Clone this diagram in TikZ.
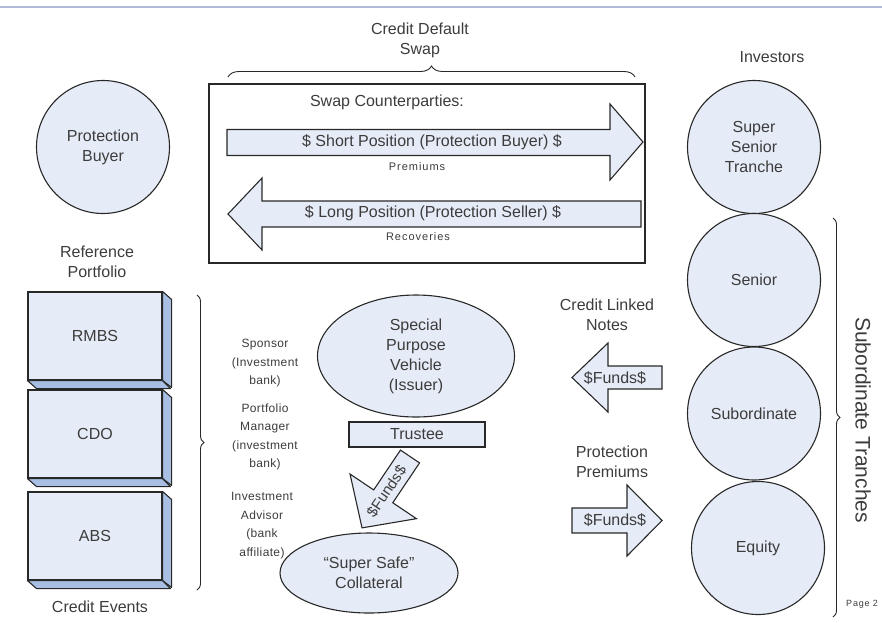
\documentclass[tikz,border=0pt]{standalone}
\usepackage{fontspec}
\setmainfont{Liberation Sans}
\newfontfamily\spacedfont[LetterSpace=9]{Liberation Sans}
\newfontfamily\notefont[LetterSpace=3]{Liberation Sans}
\usetikzlibrary{decorations.pathreplacing,shapes.geometric}
\definecolor{paleblue}{RGB}{230,236,247}
\definecolor{sideblue}{RGB}{168,190,226}
\definecolor{inkgray}{RGB}{60,60,60}
\definecolor{edge}{RGB}{40,40,40}
\definecolor{rulecol}{RGB}{178,188,216}
\begin{document}
\begin{tikzpicture}[x=1pt,y=-1pt,
  every node/.style={text=inkgray, font=\fontsize{16}{20}\selectfont, align=center, inner sep=0pt},
  shapefill/.style={draw=edge, fill=paleblue, line width=1.1pt},
  tranche/.style={shapefill, circle, minimum size=133pt},
  face/.style={draw=edge, fill=sideblue, line width=1.1pt, line join=round},
  frontface/.style={shapefill, minimum width=134pt, minimum height=88pt},
  note/.style={font=\notefont\fontsize{12}{18.5}\selectfont},
  tiny/.style={font=\spacedfont\fontsize{11}{13}\selectfont},
  bracket/.style={draw=edge, line width=0.9pt, decorate, decoration={brace, amplitude=#1}},
  bracket/.default=8,
  fatarrow/.style={shapefill, line join=miter},
]
\useasboundingbox (0,0) rectangle (882,622);

% header rule
\draw[rulecol, line width=1.5pt] (0,7) -- (882,7);

% credit default swap block
\node (cdstitle) at (420,40) {Credit Default\\Swap};
\draw[bracket=11] (228,77) -- (635,77);
\node[draw=edge, line width=1.2pt, minimum width=436pt, minimum height=179pt] (cds) at (427,173.5) {};
\node (counter) at (387,102) {Swap Counterparties:};

% premiums arrow (to the right)
\draw[fatarrow] (227,129.5) -- (610,129.5) -- (610,104) -- (643,142) -- (610,180)
  -- (610,155.5) -- (227,155.5) -- cycle;
\node (shortpos) at (432,142) {\$ Short Position (Protection Buyer) \$};
\node[tiny] (premiums) at (417,167) {Premiums};

% recoveries arrow (to the left)
\draw[fatarrow] (641,201) -- (262,201) -- (262,178) -- (228,214) -- (262,250)
  -- (262,227) -- (641,227) -- cycle;
\node (longpos) at (433,213) {\$ Long Position (Protection Seller) \$};
\node[tiny] (recoveries) at (418,237) {Recoveries};

% protection buyer
\node[tranche] (buyer) at (103,147) {Protection\\Buyer};

% investors and tranches
\node (investors) at (772,57) {Investors};
\node[tranche] (supersenior) at (754,147) {Super\\Senior\\Tranche};
\node[tranche] (senior) at (754,280) {Senior};
\node[tranche] (subordinate) at (754,413.5) {Subordinate};
\node[tranche] (equity) at (758,548) {Equity};
\draw[bracket=7] (833,218) -- (833,617);
\node[rotate=-90, font=\fontsize{21}{24}\selectfont] (subtranches) at (863,420) {Subordinate Tranches};
\node[font=\spacedfont\fontsize{9}{10}\selectfont, anchor=west] (page) at (846,604) {Page 2};

% reference portfolio
\node (refport) at (97,262) {Reference\\Portfolio};
\foreach \nm/\yy/\lbl in {rmbs/336/RMBS, cdo/434/CDO, abs/536/ABS}{
  \node[frontface] (\nm) at (95,\yy) {\lbl};
  \draw[face] (\nm.north east) -- ++(9,8) -- ++(0,88) -- (\nm.south east) -- cycle;
  \draw[face] (\nm.south west) -- ++(9,8) -- ++(134,0) -- (\nm.south east) -- cycle;
}
\node (events) at (100,607) {Credit Events};
\draw[bracket=7] (197,295) -- (197,590);

% parties around the vehicle
\node[note] (sponsor) at (265,363.5) {Sponsor\\(Investment\\bank)};
\node[note] (manager) at (265,437) {Portfolio\\Manager\\(investment\\bank)};
\node[note] (advisor) at (262,525.5) {Investment\\Advisor\\(bank\\affiliate)};

% special purpose vehicle
\node[shapefill, ellipse, minimum width=197pt, minimum height=122pt] (spv) at (416,356)
  {Special\\Purpose\\Vehicle\\(Issuer)};
\node[shapefill, minimum width=136pt, minimum height=25pt] (trustee) at (417,434.5) {Trustee};

% funds into collateral
\begin{scope}[shift={(410,456.5)}, rotate=-123.9]
  \draw[fatarrow] (0,-11.5) -- (48,-11.5) -- (48,-40) -- (86,0) -- (48,40) -- (48,11.5)
    -- (0,11.5) -- cycle;
  \node[rotate=56.1, font=\fontsize{15}{18}\selectfont] (fundsdown) at (42,0) {\$Funds\$};
\end{scope}
\node[shapefill, ellipse, minimum width=178pt, minimum height=80pt] (collateral) at (369,573)
  {“Super Safe”\\Collateral};

% credit linked notes
\node (cln) at (607,315) {Credit Linked\\Notes};
\draw[fatarrow] (662,366) -- (608,366) -- (608,343) -- (572,377.5) -- (608,412)
  -- (608,389) -- (662,389) -- cycle;
\node (fundsin) at (615,378) {\$Funds\$};

% protection premiums
\node (protprem) at (612,462) {Protection\\Premiums};
\draw[fatarrow] (572,508) -- (627,508) -- (627,485) -- (662,520.5) -- (627,556)
  -- (627,533) -- (572,533) -- cycle;
\node (fundsout) at (615,520.5) {\$Funds\$};
\end{tikzpicture}
\end{document}
